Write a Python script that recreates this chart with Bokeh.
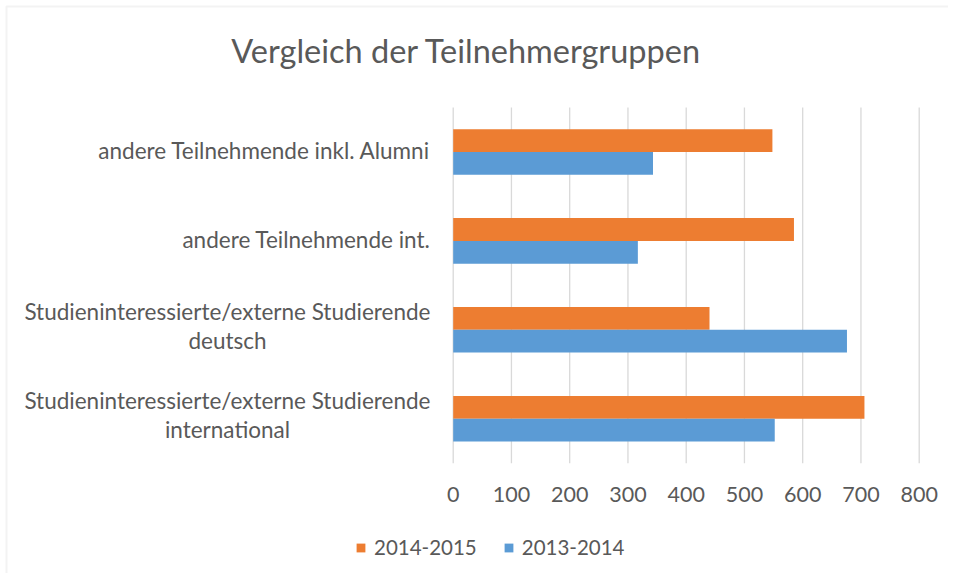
from bokeh.plotting import figure
from bokeh.models import ColumnDataSource, Range1d, Legend, LegendItem, BoxAnnotation
from bokeh.core.properties import value
from bokeh.embed import file_html
from bokeh.resources import INLINE

# ---------------- data ----------------
title = "Vergleich der Teilnehmergruppen"
categories = [
    "andere Teilnehmende inkl. Alumni",
    "andere Teilnehmende int.",
    "Studieninteressierte/externe Studierende deutsch",
    "Studieninteressierte/externe Studierende international",
]
label_line1 = [
    "andere Teilnehmende inkl. Alumni",
    "andere Teilnehmende int.",
    "Studieninteressierte/externe Studierende",
    "Studieninteressierte/externe Studierende",
]
label_line2 = ["", "", "deutsch", "international"]
series_names = ["2014-2015", "2013-2014"]
values_2014_2015 = [548, 585, 440, 706]
values_2013_2014 = [343, 317, 676, 552]
x_ticks = [0, 100, 200, 300, 400, 500, 600, 700, 800]

# ---------------- styling / layout (canvas pixels) ----------------
FONT = "Lato"
TXT = "#595959"
ORANGE = "#ED7D31"
BLUE = "#5B9BD5"
GRID = "#d9d9d9"

W, H = 944, 569
PLOT_LEFT, PLOT_RIGHT = 448.7, 914.7
PLOT_TOP, PLOT_BOTTOM = 103.0, 458.7
X_MAX = x_ticks[-1]
N = len(categories)
upx = X_MAX / (PLOT_RIGHT - PLOT_LEFT)
upy = N / (PLOT_BOTTOM - PLOT_TOP)


def dx(px):
    return (px - PLOT_LEFT) * upx


def dy(py):
    return (PLOT_BOTTOM - py) * upy


p = figure(
    width=W, height=H,
    x_range=Range1d(dx(0), dx(W)),
    y_range=Range1d(dy(H), dy(0)),
    x_axis_type=None, y_axis_type=None,
    output_backend="svg", toolbar_location=None,
    min_border=0,
)
p.styles = {"margin-left": "4px", "margin-top": "4px"}
p.outline_line_color = None
p.grid.visible = False
p.background_fill_color = "white"
p.border_fill_color = "white"

# category centres: first category on top
centres = [N - 1 - i + 0.5 for i in range(N)]
BAR_H = 0.256

src = ColumnDataSource(dict(
    ya=[c + BAR_H / 2 for c in centres],
    yb=[c - BAR_H / 2 for c in centres],
    a=values_2014_2015,
    b=values_2013_2014,
))

# vertical gridlines
p.segment(x0=x_ticks, x1=x_ticks, y0=[0] * len(x_ticks), y1=[N] * len(x_ticks),
          line_color=GRID, line_width=1.3)

ra = p.hbar(y="ya", left=0, right="a", height=BAR_H, source=src,
            fill_color=ORANGE, line_color=None)
rb = p.hbar(y="yb", left=0, right="b", height=BAR_H, source=src,
            fill_color=BLUE, line_color=None)

# x tick labels
p.text(x=x_ticks, y=[dy(490)] * len(x_ticks), text=[str(t) for t in x_ticks],
       text_align="center", text_baseline="alphabetic",
       text_font=value(FONT), text_font_size="21.5px", text_color=TXT)

# category labels
CAT_FS = "22.5px"
one_line = [i for i in range(N) if not label_line2[i]]
two_line = [i for i in range(N) if label_line2[i]]
p.text(x=[dx(426)] * len(one_line),
       y=[centres[i] + 1.4 * upy for i in one_line],
       text=[label_line1[i] for i in one_line],
       text_align="right", text_baseline="alphabetic",
       text_font=value(FONT), text_font_size=CAT_FS, text_color=TXT)
p.text(x=[dx(426)] * len(two_line),
       y=[centres[i] + 18.0 * upy for i in two_line],
       text=[label_line1[i] for i in two_line],
       text_align="right", text_baseline="alphabetic",
       text_font=value(FONT), text_font_size=CAT_FS, text_color=TXT)
p.text(x=[dx(223)] * len(two_line),
       y=[centres[i] - 10.5 * upy for i in two_line],
       text=[label_line2[i] for i in two_line],
       text_align="center", text_baseline="alphabetic",
       text_font=value(FONT), text_font_size=CAT_FS, text_color=TXT)

# title
p.text(x=[dx(462)], y=[dy(46)], text=[title], text_align="center",
       text_baseline="alphabetic", text_font=value(FONT), text_font_size="32.5px",
       text_color=TXT)

legend = Legend(items=[LegendItem(label=series_names[0], renderers=[ra]),
                       LegendItem(label=series_names[1], renderers=[rb])],
                orientation="horizontal", location=(351, 14))
legend.glyph_width = 11
legend.glyph_height = 11
legend.label_text_font = FONT
legend.label_text_font_size = "20.5px"
legend.label_text_color = TXT
legend.label_standoff = 8
legend.spacing = 26
legend.padding = 0
legend.margin = 0
legend.border_line_color = None
legend.background_fill_alpha = 0
p.add_layout(legend, "center")

# chart border (top and left edges visible in the reference)
p.add_layout(BoxAnnotation(left=2, top=2, right=W + 50, bottom=H + 50,
                           left_units="canvas", right_units="canvas",
                           top_units="canvas", bottom_units="canvas",
                           fill_color=None, line_color="#d6d6d6", line_width=2))

open("out.html", "w").write(file_html(p, INLINE))
